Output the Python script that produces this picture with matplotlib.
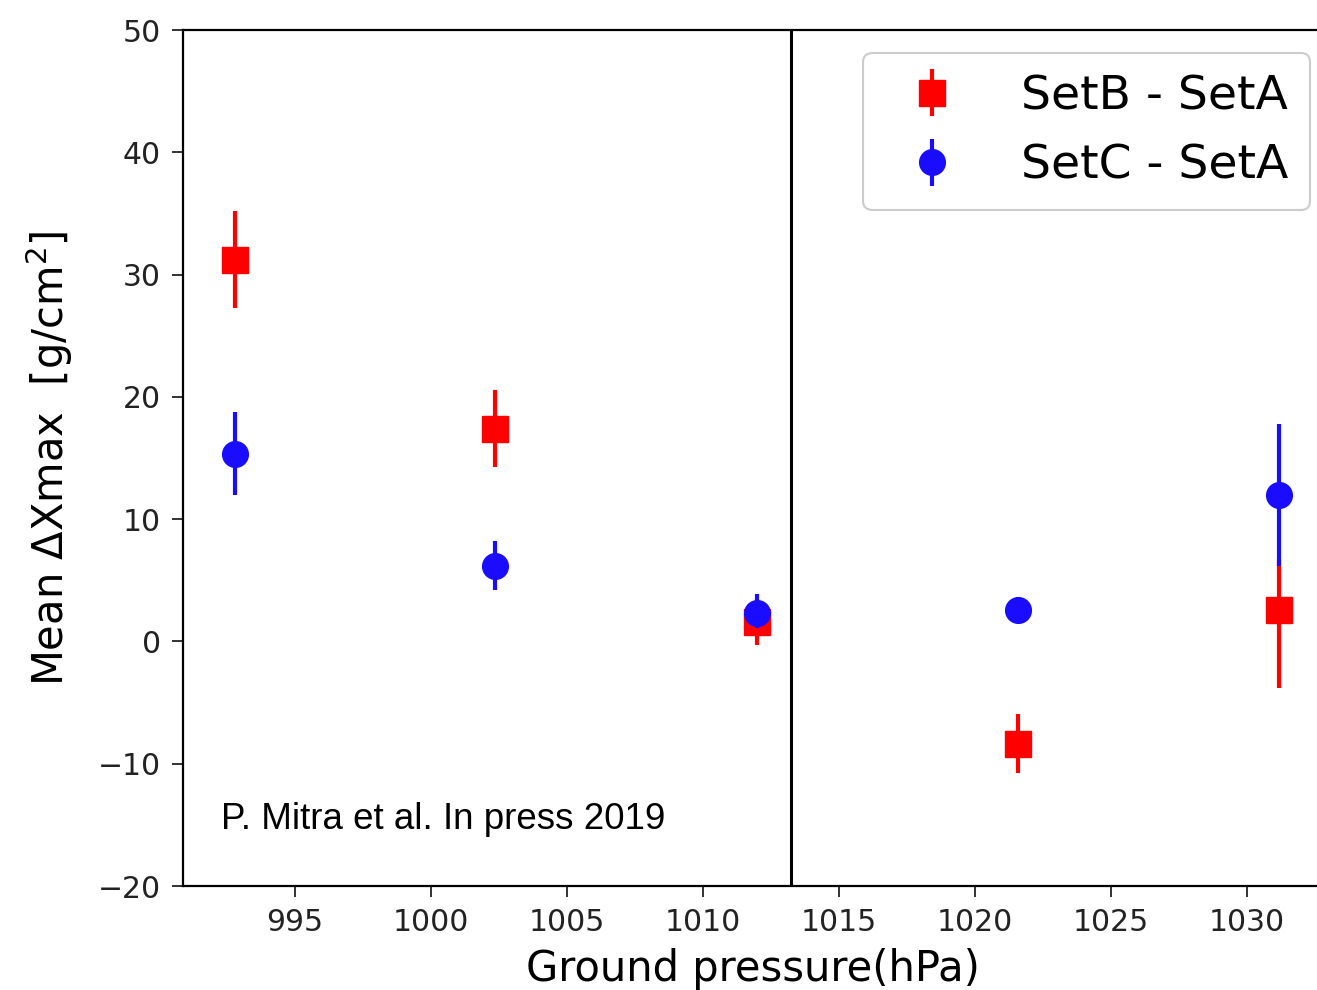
import matplotlib
matplotlib.use("Agg")
import matplotlib.pyplot as plt
from matplotlib.legend_handler import HandlerErrorbar
from matplotlib.container import ErrorbarContainer

# ground pressure bins (hPa)
pressure = [992.8, 1002.35, 1012.0, 1021.6, 1031.2]

# SetB - SetA
b_mean = [31.2, 17.4, 1.6, -8.4, 2.6]
b_lo = [27.3, 14.3, -0.3, -10.8, -3.8]
b_hi = [35.2, 20.6, 3.5, -5.9, 6.7]

# SetC - SetA
c_mean = [15.3, 6.2, 2.3, 2.6, 12.0]
c_lo = [12.0, 4.2, 1.1, 1.6, 6.2]
c_hi = [18.8, 8.2, 3.9, 3.6, 17.8]

split_p = 1013.25

fig = plt.figure(figsize=(13.17, 9.9), dpi=100)
ax = fig.add_axes([183 / 1317, 104 / 990, 1140 / 1317, 856 / 990])

b_err = [[m - lo for m, lo in zip(b_mean, b_lo)], [hi - m for m, hi in zip(b_mean, b_hi)]]
c_err = [[m - lo for m, lo in zip(c_mean, c_lo)], [hi - m for m, hi in zip(c_mean, c_hi)]]

ax.errorbar(pressure, b_mean, yerr=b_err, fmt="s", color="red", ms=18.5,
            elinewidth=3, capsize=0, label="SetB - SetA", zorder=3)
ax.errorbar(pressure, c_mean, yerr=c_err, fmt="o", color="#1a0dff", ms=18.5,
            elinewidth=3, capsize=0, label="SetC - SetA", zorder=4)

ax.axvline(split_p, color="black", lw=2.2, zorder=2)

ax.set_xlim(990.9, 1032.8)
ax.set_ylim(-20, 50)
ax.set_xticks([995, 1000, 1005, 1010, 1015, 1020, 1025, 1030])
ax.set_yticks([-20, -10, 0, 10, 20, 30, 40, 50])
ax.tick_params(labelsize=21.5, length=8, width=1.3, colors="#222222", pad=8)
for s in ax.spines.values():
    s.set_linewidth(1.6)

# the reference crops this label at the bottom edge; keep it just inside
ax.set_xlabel("Ground pressure(hPa)", fontsize=30, labelpad=8)
ax.set_ylabel(r"Mean $\Delta$Xmax  [g/cm$^2$]", fontsize=30, labelpad=16)

ax.text(0.033, 0.078, "P. Mitra et al. In press 2019", transform=ax.transAxes,
        fontsize=26.5, family="Liberation Sans", va="center")

leg = ax.legend(loc="upper right", bbox_to_anchor=(1127 / 1140, 833 / 856), fontsize=34,
                handletextpad=0.9, borderpad=0.45, labelspacing=0.52, borderaxespad=0,
                handler_map={ErrorbarContainer: HandlerErrorbar(xerr_size=0.5)},
                framealpha=1.0, edgecolor="#cccccc")
leg.get_frame().set_linewidth(1.5)

fig.savefig("out.png", dpi=100)
